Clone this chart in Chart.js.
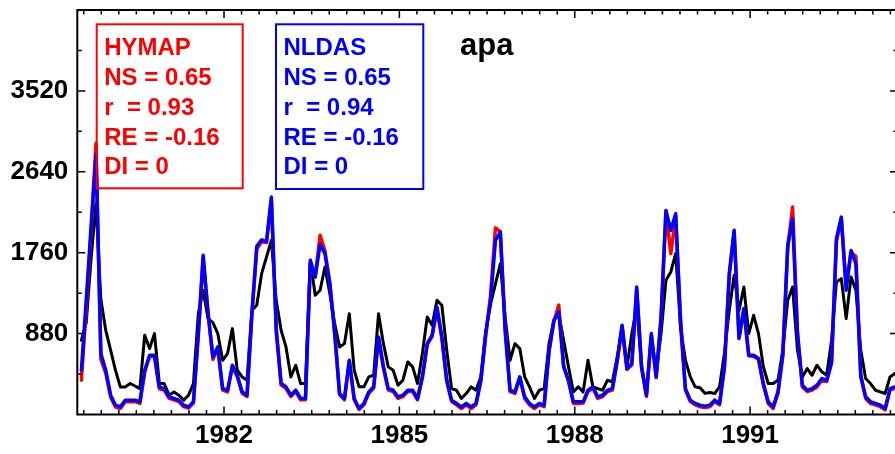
<!DOCTYPE html>
<html lang="en">
<head>
<meta charset="UTF-8">
<title>apa</title>
<script src="https://cdn.jsdelivr.net/npm/chart.js"></script>
<style>
  html, body { margin: 0; padding: 0; background: #fff; overflow: hidden; }
  #wrap { width: 898px; height: 454px; }
</style>
</head>
<body>
<div id="wrap"><canvas id="flowChart"></canvas></div>
<script>
    // monthly series, first sample mid 1979
    const firstMonth = 1979.56;

    const observed = [
        808, 1000, 1700, 2300, 1250, 916, 700, 480, 300, 300, 337, 310,
        282, 862, 717, 880, 337, 337, 210, 246, 210, 156, 210, 337,
        1097, 1350, 1043, 1000, 880, 590, 663, 934, 482, 409, 373, 1133,
        1188, 1532, 1713, 1894, 1242, 916, 735, 409, 536, 337, 337, 1677,
        1297, 1351, 1604, 1315, 989, 735, 771, 1097, 482, 301, 301, 409,
        427, 1097, 771, 518, 482, 319, 373, 572, 518, 337, 663, 1061,
        971, 1242, 1188, 699, 282, 264, 174, 228, 301, 264, 409, 900,
        1200, 1420, 1640, 1061, 590, 771, 717, 409, 301, 174, 264, 282,
        771, 1025, 1097, 808, 518, 246, 301, 246, 590, 301, 282, 264,
        373, 355, 627, 916, 518, 880, 1170, 518, 228, 844, 445, 880,
        1460, 1550, 1750, 952, 590, 409, 301, 290, 230, 240, 228, 300,
        663, 1133, 1514, 1133, 1387, 880, 1079, 880, 518, 337, 337, 373,
        699, 1242, 1387, 699, 409, 500, 427, 536, 464, 427, 808, 1441,
        1478, 1043, 1496, 1351, 699, 391, 337, 264, 246, 228, 409, 445
    ];

    const hymap = [
        373, 1150, 2000, 2950, 600, 450, 190, 80, 65, 140, 140, 140,
        120, 460, 630, 630, 280, 265, 175, 160, 140, 85, 70, 125,
        860, 1700, 1110, 600, 720, 265, 245, 520, 410, 230, 195, 1080,
        1800, 1880, 1870, 2330, 950, 320, 285, 195, 250, 160, 160, 1640,
        1500, 1950, 1780, 1430, 900, 215, 160, 580, 160, 55, 105, 230,
        285, 830, 510, 265, 250, 175, 195, 250, 250, 160, 400, 760,
        850, 1140, 830, 360, 140, 105, 65, 105, 65, 105, 360, 850,
        1300, 2030, 1990, 950, 250, 230, 400, 175, 105, 65, 105, 85,
        680, 1010, 1190, 530, 360, 120, 120, 125, 250, 285, 175, 195,
        250, 265, 580, 960, 490, 540, 1360, 505, 195, 860, 400, 1040,
        2200, 1750, 2150, 1050, 265, 140, 105, 85, 75, 85, 140, 105,
        500, 1510, 1990, 840, 1140, 640, 630, 600, 320, 120, 65, 230,
        640, 1800, 2256, 900, 300, 250, 265, 300, 375, 360, 560, 1880,
        2130, 1400, 1760, 1720, 430, 175, 120, 105, 85, 50, 265, 285
    ];

    const nldas = [
        480, 1250, 2050, 2830, 663, 482, 210, 101, 83, 156, 156, 156,
        138, 482, 645, 645, 301, 282, 192, 174, 156, 101, 83, 138,
        880, 1731, 1097, 627, 735, 282, 264, 536, 427, 246, 210, 1100,
        1830, 1900, 1880, 2365, 900, 340, 301, 210, 264, 174, 174, 1677,
        1496, 1850, 1749, 1424, 880, 228, 174, 590, 174, 65, 120, 246,
        301, 844, 518, 282, 264, 192, 210, 264, 264, 174, 409, 771,
        862, 1170, 844, 373, 156, 120, 83, 120, 83, 120, 373, 880,
        1242, 1894, 1984, 900, 264, 246, 409, 192, 120, 83, 120, 101,
        699, 1025, 1116, 518, 373, 138, 138, 138, 264, 301, 192, 210,
        264, 282, 590, 971, 500, 554, 1387, 518, 210, 880, 409, 1061,
        2220, 2003, 2184, 989, 282, 156, 120, 101, 91, 101, 156, 120,
        518, 1532, 2003, 826, 1152, 645, 645, 609, 337, 138, 83, 246,
        663, 1840, 2129, 880, 319, 264, 282, 319, 391, 373, 572, 1912,
        2147, 1351, 1785, 1640, 409, 192, 138, 120, 101, 65, 282, 301
    ];

    const yearTicks = [1982, 1985, 1988, 1991];
    const flowTicks = [880, 1760, 2640, 3520];
    const statsHymap = ['HYMAP', 'NS = 0.65', 'r  = 0.93', 'RE = -0.16', 'DI = 0'];
    const statsNldas = ['NLDAS', 'NS = 0.65', 'r  = 0.94', 'RE = -0.16', 'DI = 0'];
    const stationName = 'apa';

    const months = observed.map((_, i) => firstMonth + i / 12);
    const toPoints = arr => arr.map((v, i) => ({ x: months[i], y: v }));

    const fontFamily = '"Liberation Sans", Arial, Helvetica, sans-serif';

    // frame, inward ticks, stat boxes and title
    const decorations = {
        id: 'decorations',
        afterDatasetsDraw(chart) {
            const { ctx, chartArea: a, scales: { x, y } } = chart;
            ctx.save();
            ctx.strokeStyle = '#000';
            ctx.lineWidth = 2;
            ctx.strokeRect(a.left, a.top, a.right - a.left, a.bottom - a.top);

            ctx.lineWidth = 1.5;
            ctx.beginPath();
            for (let k = -10; k <= 45; k++) {
                const px = x.getPixelForValue(1982 + k * 0.3);
                if (px <= a.left + 1 || px >= a.right - 1) continue;
                const len = k % 10 === 0 ? 8 : 4.5;
                ctx.moveTo(px, a.bottom); ctx.lineTo(px, a.bottom - len);
                ctx.moveTo(px, a.top); ctx.lineTo(px, a.top + len);
            }
            for (let v = 440; v < 4400; v += 440) {
                const py = y.getPixelForValue(v);
                const len = v % 880 === 0 ? 8 : 4.5;
                ctx.moveTo(a.left, py); ctx.lineTo(a.left + len, py);
                ctx.moveTo(a.right, py); ctx.lineTo(a.right - len, py);
            }
            ctx.stroke();

            function statBox(lines, color, bx, by, bw, bh) {
                ctx.strokeStyle = color;
                ctx.lineWidth = 2;
                ctx.strokeRect(bx, by, bw, bh);
                ctx.fillStyle = color;
                ctx.font = 'bold 24px ' + fontFamily;
                ctx.textBaseline = 'alphabetic';
                ctx.textAlign = 'left';
                lines.forEach((t, i) => ctx.fillText(t, bx + 7.5, by + 31 + i * 29.75));
            }
            statBox(statsHymap, '#ff0000', 96.7, 24.3, 146, 164);
            statBox(statsNldas, '#0000ff', 276, 24.3, 147.3, 164.7);

            ctx.fillStyle = '#000';
            ctx.font = 'bold 31px ' + fontFamily;
            ctx.fillText(stationName, 460, 55);
            ctx.restore();
        }
    };

    const ctx = document.getElementById('flowChart').getContext('2d');
    new Chart(ctx, {
        type: 'line',
        data: {
            datasets: [
                { label: 'NLDAS', data: toPoints(nldas), borderColor: '#0000ff', borderWidth: 3.5, order: 0 },
                { label: 'HYMAP', data: toPoints(hymap), borderColor: '#ff0000', borderWidth: 3.5, order: 1 },
                { label: 'Observed', data: toPoints(observed), borderColor: '#000000', borderWidth: 3, order: 2 }
            ]
        },
        options: {
            responsive: true,
            maintainAspectRatio: false,
            animation: false,
            layout: { padding: { top: 10, right: 0, left: 0, bottom: 0 } },
            elements: {
                point: { radius: 0 },
                line: { tension: 0, borderJoinStyle: 'round', borderCapStyle: 'round' }
            },
            plugins: { legend: { display: false }, tooltip: { enabled: false } },
            scales: {
                x: {
                    type: 'linear',
                    min: 1979.49,
                    max: 1993.53,
                    grid: { display: false, drawTicks: false },
                    border: { display: false },
                    afterBuildTicks: scale => { scale.ticks = yearTicks.map(v => ({ value: v })); },
                    afterFit: scale => {
                        scale.height = 39.5;
                        scale.paddingLeft = 0;
                        scale.paddingRight = 0;
                    },
                    ticks: {
                        padding: 6,
                        maxRotation: 0,
                        color: '#000',
                        font: { family: fontFamily, size: 26, weight: 'bold' },
                        callback: v => String(v)
                    }
                },
                y: {
                    min: 0,
                    max: 4400,
                    grid: { display: false, drawTicks: false },
                    border: { display: false },
                    afterBuildTicks: scale => { scale.ticks = flowTicks.map(v => ({ value: v })); },
                    afterFit: scale => {
                        scale.width = 77.3;
                        scale.paddingTop = 0;
                        scale.paddingBottom = 0;
                    },
                    ticks: {
                        padding: 9,
                        color: '#000',
                        font: { family: fontFamily, size: 26, weight: 'bold' },
                        callback: v => String(v)
                    }
                }
            }
        },
        plugins: [decorations]
    });
</script>
</body>
</html>
